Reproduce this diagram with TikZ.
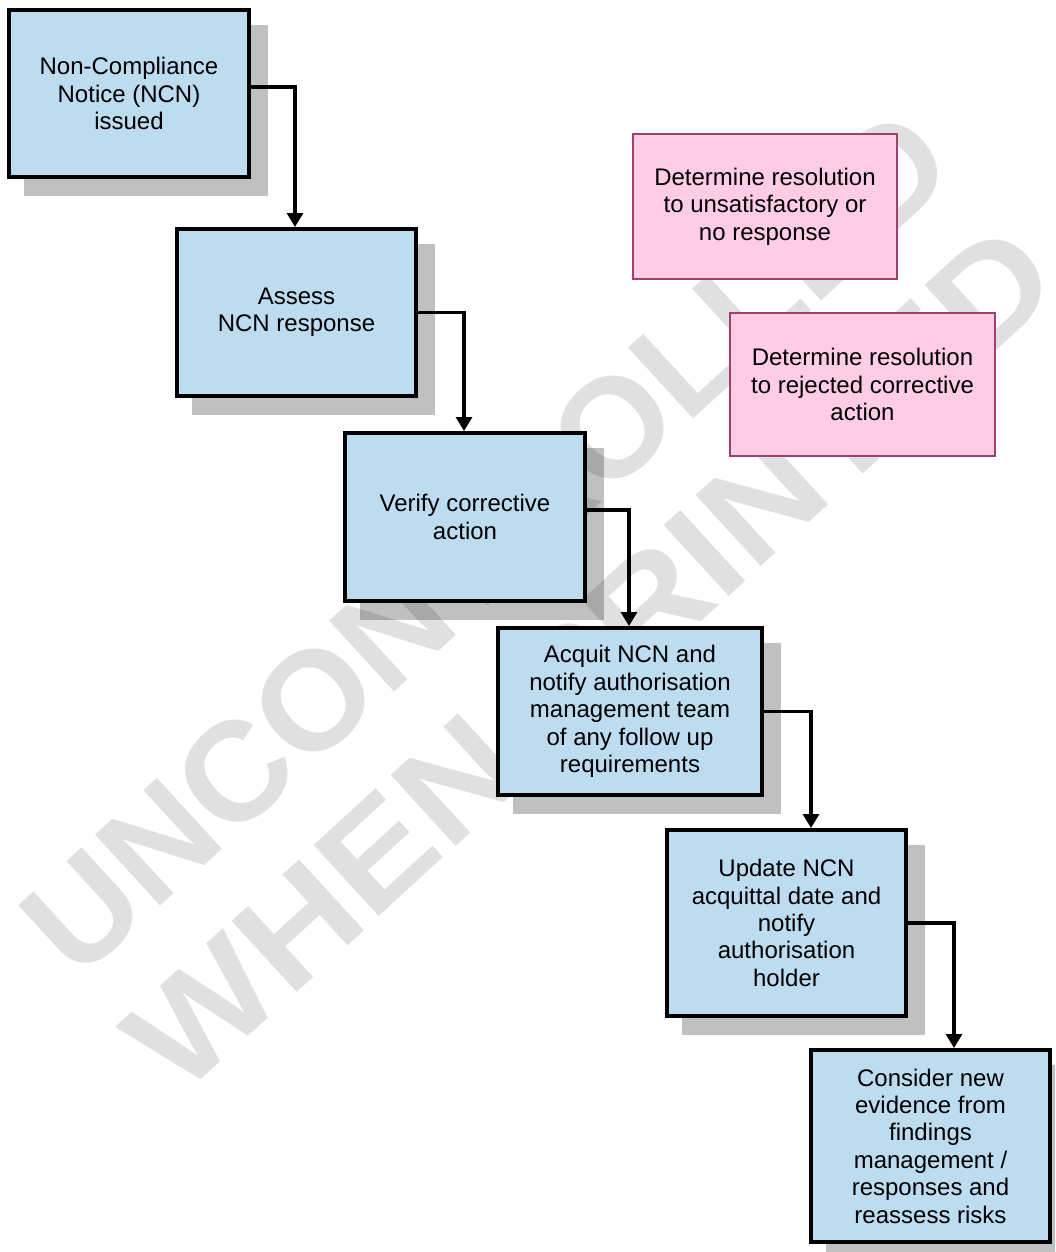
\documentclass[tikz,border=0pt]{standalone}
\usepackage{fontspec}
\setmainfont{Liberation Sans}
\usetikzlibrary{arrows.meta}
\pgfdeclarelayer{shade}
\pgfdeclarelayer{mark}
\pgfsetlayers{shade,mark,main}
\definecolor{stepblue}{RGB}{189,220,240}
\definecolor{shadegray}{RGB}{192,192,192}
\definecolor{notepink}{RGB}{255,204,230}
\definecolor{noteedge}{RGB}{160,64,112}
\tikzset{
  boxtext/.style={align=center, inner sep=0pt, font=\fontsize{12}{13.7}\selectfont},
  stepbox/.style={boxtext, draw=black, line width=2pt, fill=stepblue},
  notebox/.style={boxtext, draw=noteedge, line width=1pt, fill=notepink},
  flow/.style={line width=1.6pt, -{Triangle[width=8pt,length=7pt]}},
  wmark/.style={rotate=42.5, inner sep=0pt, text=black, text opacity=0.12,
    font=\fontsize{70}{70}\selectfont\bfseries},
}
\newcommand{\boxshade}[1]{%
  \fill[shadegray] ([shift={(17,17)}]#1.south west) rectangle ([shift={(17,17)}]#1.north east);}
\begin{document}
\begin{tikzpicture}[x=0.5pt, y=-0.5pt]
\useasboundingbox (0,0) rectangle (1055,1252);

% process steps
\node[stepbox, minimum width=120pt,   minimum height=83.5pt] (b1) at (129,93.5)
  {Non-Compliance\\Notice (NCN)\\issued};
\node[stepbox, minimum width=119.5pt, minimum height=83.5pt] (b2) at (296.5,312.5)
  {Assess\\NCN response};
\node[stepbox, minimum width=120pt,   minimum height=84pt]   (b3) at (465,517)
  {Verify corrective\\action};
\node[stepbox, minimum width=132pt,   minimum height=83.5pt] (b4) at (630,711.5)
  {Acquit NCN and\\notify authorisation\\management team\\of any follow up\\requirements};
\node[stepbox, minimum width=119.5pt, minimum height=93pt]   (b5) at (786.5,923)
  {Update NCN\\acquittal date and\\notify\\authorisation\\holder};
\node[stepbox, minimum width=119.5pt, minimum height=96pt]   (b6) at (930.5,1146)
  {Consider new\\evidence from\\findings\\management /\\responses and\\reassess risks};

% side notes
\node[notebox, minimum width=132pt,   minimum height=72.5pt] (p1) at (765,206.5)
  {Determine resolution\\to unsatisfactory or\\no response};
\node[notebox, minimum width=132.5pt, minimum height=71.5pt] (p2) at (862.5,384.5)
  {Determine resolution\\to rejected corrective\\action};

% drop shadows behind the steps
\begin{pgfonlayer}{shade}
  \clip (0,0) rectangle (1055,1252);
  \boxshade{b1}\boxshade{b2}\boxshade{b3}\boxshade{b4}\boxshade{b5}\boxshade{b6}
\end{pgfonlayer}

% diagonal watermark
\begin{pgfonlayer}{mark}
  \clip (0,0) rectangle (1055,1252);
  \node[wmark] (wm1) at (486.8,542.2) {\scalebox{1.02}[1]{UNCONTROLLED}};
  \node[wmark] (wm2) at (590.8,657.8) {\scalebox{1.11}[1]{WHEN PRINTED}};
\end{pgfonlayer}

% connectors
\draw[flow] ([shift={(0,-6.5)}]b1.east) -| ([shift={(-1.5,0)}]b2.north);
\draw[flow] (b2.east) -| ([shift={(-1,0)}]b3.north);
\draw[flow] ([shift={(0,-7)}]b3.east) -| ([shift={(-1,0)}]b4.north);
\draw[flow] (b4.east) -| ([shift={(24.5,0)}]b5.north);
\draw[flow] (b5.east) -| ([shift={(23.5,0)}]b6.north);
\end{tikzpicture}
\end{document}
